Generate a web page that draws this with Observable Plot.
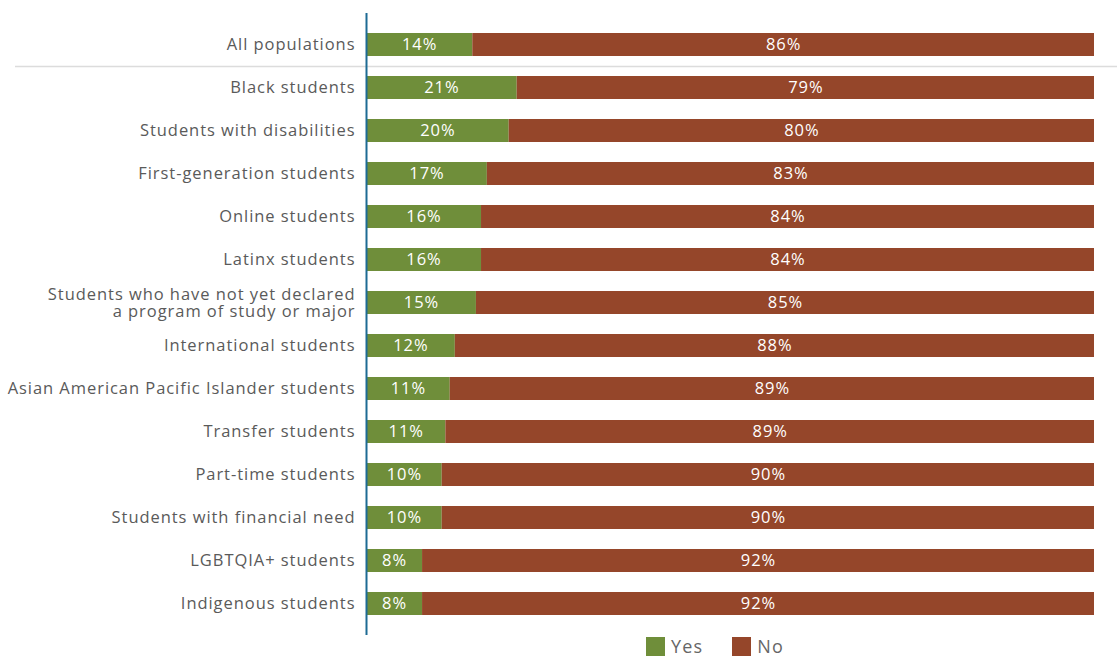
<!DOCTYPE html>
<html>
<head>
<meta charset="utf-8">
<script src="https://cdn.jsdelivr.net/npm/d3@7"></script>
<script src="https://cdn.jsdelivr.net/npm/@observablehq/plot@0.6"></script>
<style>
  html, body { margin: 0; padding: 0; background: #fff; overflow: hidden; }
  body { width: 1117px; height: 656px; position: relative; font-family: "Open Sans", sans-serif; }
  #chart { position: absolute; left: 0; top: 0; }
  #legend { position: absolute; left: 646px; top: 637px; display: flex; font-size: 18px; line-height: 19px; letter-spacing: 1.2px; color: #666; }
  .item { display: flex; align-items: center; margin-right: 29px; }
  .sw { width: 19px; height: 19px; margin-right: 6px; }
</style>
</head>
<body>
<div id="chart"></div>
<div id="legend"></div>
<script>
const categories = [
  "All populations",
  "Black students",
  "Students with disabilities",
  "First-generation students",
  "Online students",
  "Latinx students",
  "Students who have not yet declared\na program of study or major",
  "International students",
  "Asian American Pacific Islander students",
  "Transfer students",
  "Part-time students",
  "Students with financial need",
  "LGBTQIA+ students",
  "Indigenous students"
];
const yesValues = [14.6, 20.7, 19.6, 16.6, 15.8, 15.8, 15.1, 12.2, 11.5, 10.9, 10.4, 10.4, 7.7, 7.7];
const yesLabels = ["14%", "21%", "20%", "17%", "16%", "16%", "15%", "12%", "11%", "11%", "10%", "10%", "8%", "8%"];
const noLabels  = ["86%", "79%", "80%", "83%", "84%", "84%", "85%", "88%", "89%", "89%", "90%", "90%", "92%", "92%"];
const seriesNames = ["Yes", "No"];
const seriesColors = ["#6F8E3A", "#95462A"];

const rows = [];
categories.forEach((c, i) => {
  rows.push({cat: c, series: "Yes", value: yesValues[i], label: yesLabels[i]});
  rows.push({cat: c, series: "No", value: 100 - yesValues[i], label: noLabels[i]});
});

const font = "'Open Sans', sans-serif";

const chart = Plot.plot({
  width: 1117,
  height: 635,
  marginLeft: 366,
  marginRight: 23,
  marginTop: 13,
  marginBottom: 0,
  style: {fontFamily: font, fontSize: "16.5px", color: "#5a5a5a", background: "#fff", letterSpacing: "0.95px"},
  x: {domain: [0, 100], axis: null},
  y: {domain: categories, padding: 0.46, label: null, tickSize: 0, tickPadding: 11},
  color: {domain: seriesNames, range: seriesColors},
  marks: [
    Plot.ruleY([categories[1]], {dy: -21.5, stroke: "#dcdcdc", strokeWidth: 1.5, insetLeft: -351, insetRight: -23}),
    Plot.axisY({tickSize: 0, tickPadding: 11, fontSize: 16.5, fill: "#5a5a5a", lineHeight: 1.03, label: null}),
    Plot.barX(rows, Plot.stackX({x: "value", y: "cat", fill: "series", order: seriesNames})),
    Plot.text(rows, Plot.stackX({x: "value", y: "cat", z: "series", order: seriesNames, text: "label", fill: "white", fontSize: 16.5})),
    Plot.ruleX([0], {stroke: "#1D6B94", strokeWidth: 2})
  ]
});
document.getElementById("chart").appendChild(chart);

const legend = document.getElementById("legend");
seriesNames.forEach((s, i) => {
  const it = document.createElement("div");
  it.className = "item";
  it.innerHTML = `<span class="sw" style="background:${seriesColors[i]}"></span><span>${s}</span>`;
  legend.appendChild(it);
});
</script>
</body>
</html>
